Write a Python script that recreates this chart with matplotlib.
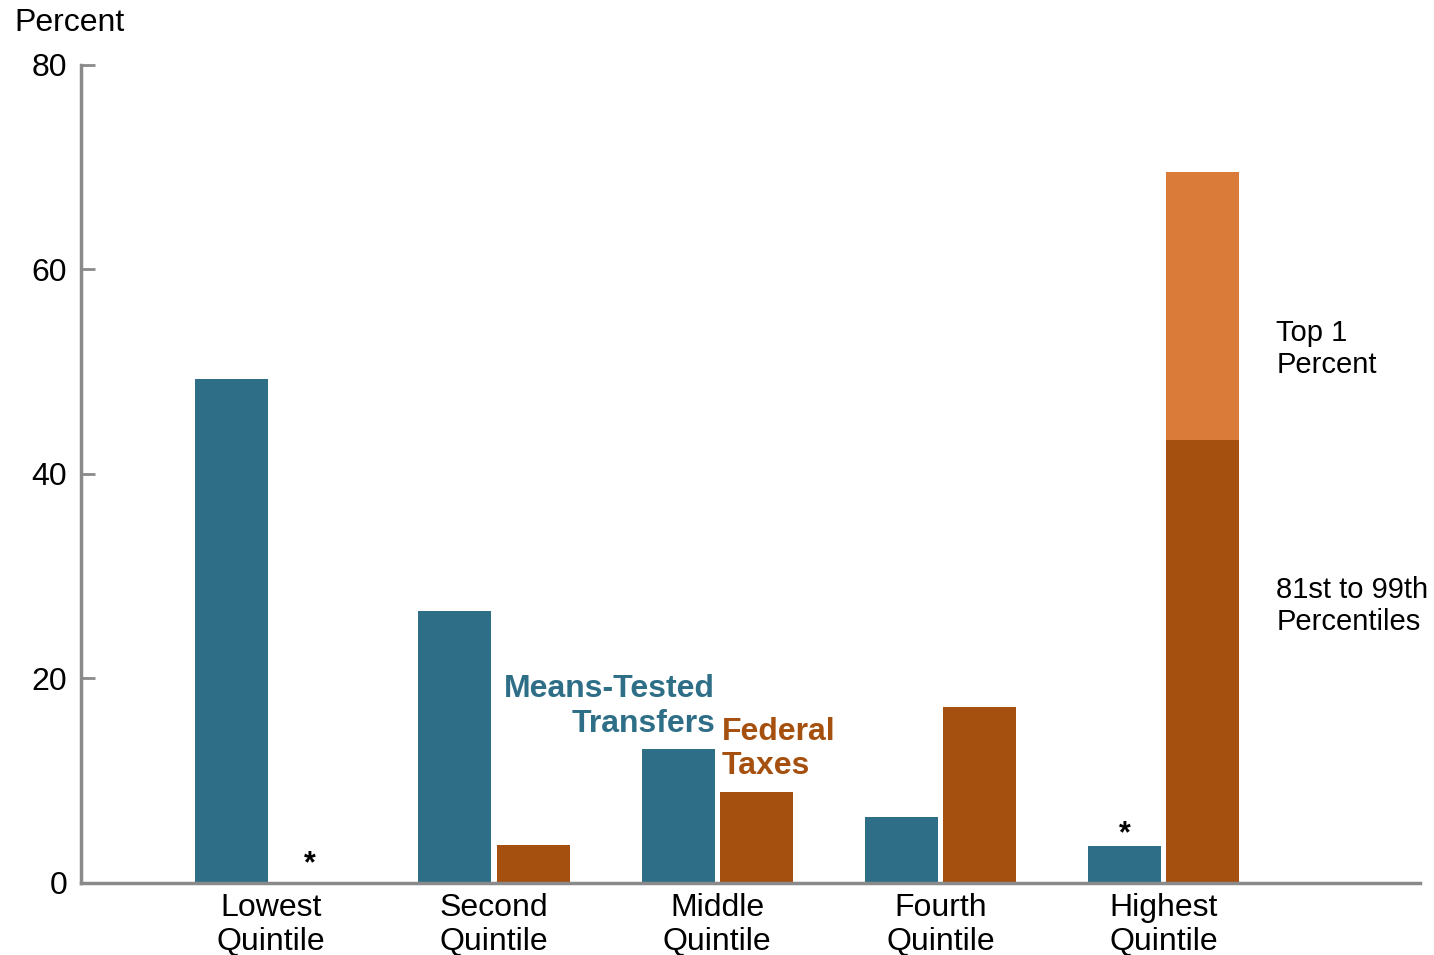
import matplotlib
matplotlib.use("Agg")
import matplotlib.pyplot as plt
import numpy as np

plt.rcParams['font.family'] = ['Liberation Sans', 'DejaVu Sans']

categories = ["Lowest\nQuintile", "Second\nQuintile", "Middle\nQuintile", "Fourth\nQuintile", "Highest\nQuintile"]
transfers = [49.3, 26.6, 13.1, 6.5, 3.6]
taxes = [0.0, 3.7, 8.9, 17.2, 43.3]       # 81st-99th for highest quintile
top1_extra = [0, 0, 0, 0, 26.2]            # top 1 percent stacked on highest

TEAL = "#2e6f87"
DARK_OR = "#a5500f"
LIGHT_OR = "#db7b3a"
AXIS_GRAY = "#8a8a8a"

fig = plt.figure(figsize=(14.34, 9.55), dpi=100)
ax = fig.add_axes([0.0565, 0.0754, 0.9335, 0.8566])

x = np.arange(len(categories))
w = 0.327
off = 0.176
ax.bar(x - off, transfers, width=w, color=TEAL)
ax.bar(x + off, taxes, width=w, color=DARK_OR)
ax.bar(x[4:] + off, top1_extra[4:], bottom=taxes[4:], width=w, color=LIGHT_OR)

ax.set_xlim(-0.851, 5.147)
ax.set_ylim(0, 80)
ax.set_yticks([0, 20, 40, 60, 80])
ax.set_xticks(x)
ax.set_xticklabels(categories, fontsize=23, linespacing=1.2)
ax.tick_params(axis='x', length=0, pad=7)
ax.tick_params(axis='y', direction='in', length=10, width=2, color=AXIS_GRAY,
               labelsize=23, pad=10)
for s in ['top', 'right']:
    ax.spines[s].set_visible(False)
for s in ['left', 'bottom']:
    ax.spines[s].set_color(AXIS_GRAY)
    ax.spines[s].set_linewidth(2.5)

fig.text(0.010, 0.976, "Percent", fontsize=23, ha='left', va='center')

# asterisks for near-zero values
ax.text(x[0] + off, 0.4, "*", fontsize=22, fontweight='bold', ha='center', va='bottom')
ax.text(x[4] - off, transfers[4] - 0.3, "*", fontsize=22, fontweight='bold', ha='center', va='bottom')

# series labels
ax.text(x[2] - 0.01, 17.25, "Means-Tested\nTransfers", color=TEAL, fontsize=23,
        fontweight='bold', ha='right', va='center', linespacing=1.2)
ax.text(x[2] + 0.02, 13.1, "Federal\nTaxes", color=DARK_OR, fontsize=23,
        fontweight='bold', ha='left', va='center', linespacing=1.2)

# stacked segment labels
ax.text(x[4] + 0.505, 52.2, "Top 1\nPercent", fontsize=21, ha='left', va='center', linespacing=1.18)
ax.text(x[4] + 0.505, 27.1, "81st to 99th\nPercentiles", fontsize=21, ha='left', va='center', linespacing=1.18)

fig.savefig("out.png", dpi=100)
